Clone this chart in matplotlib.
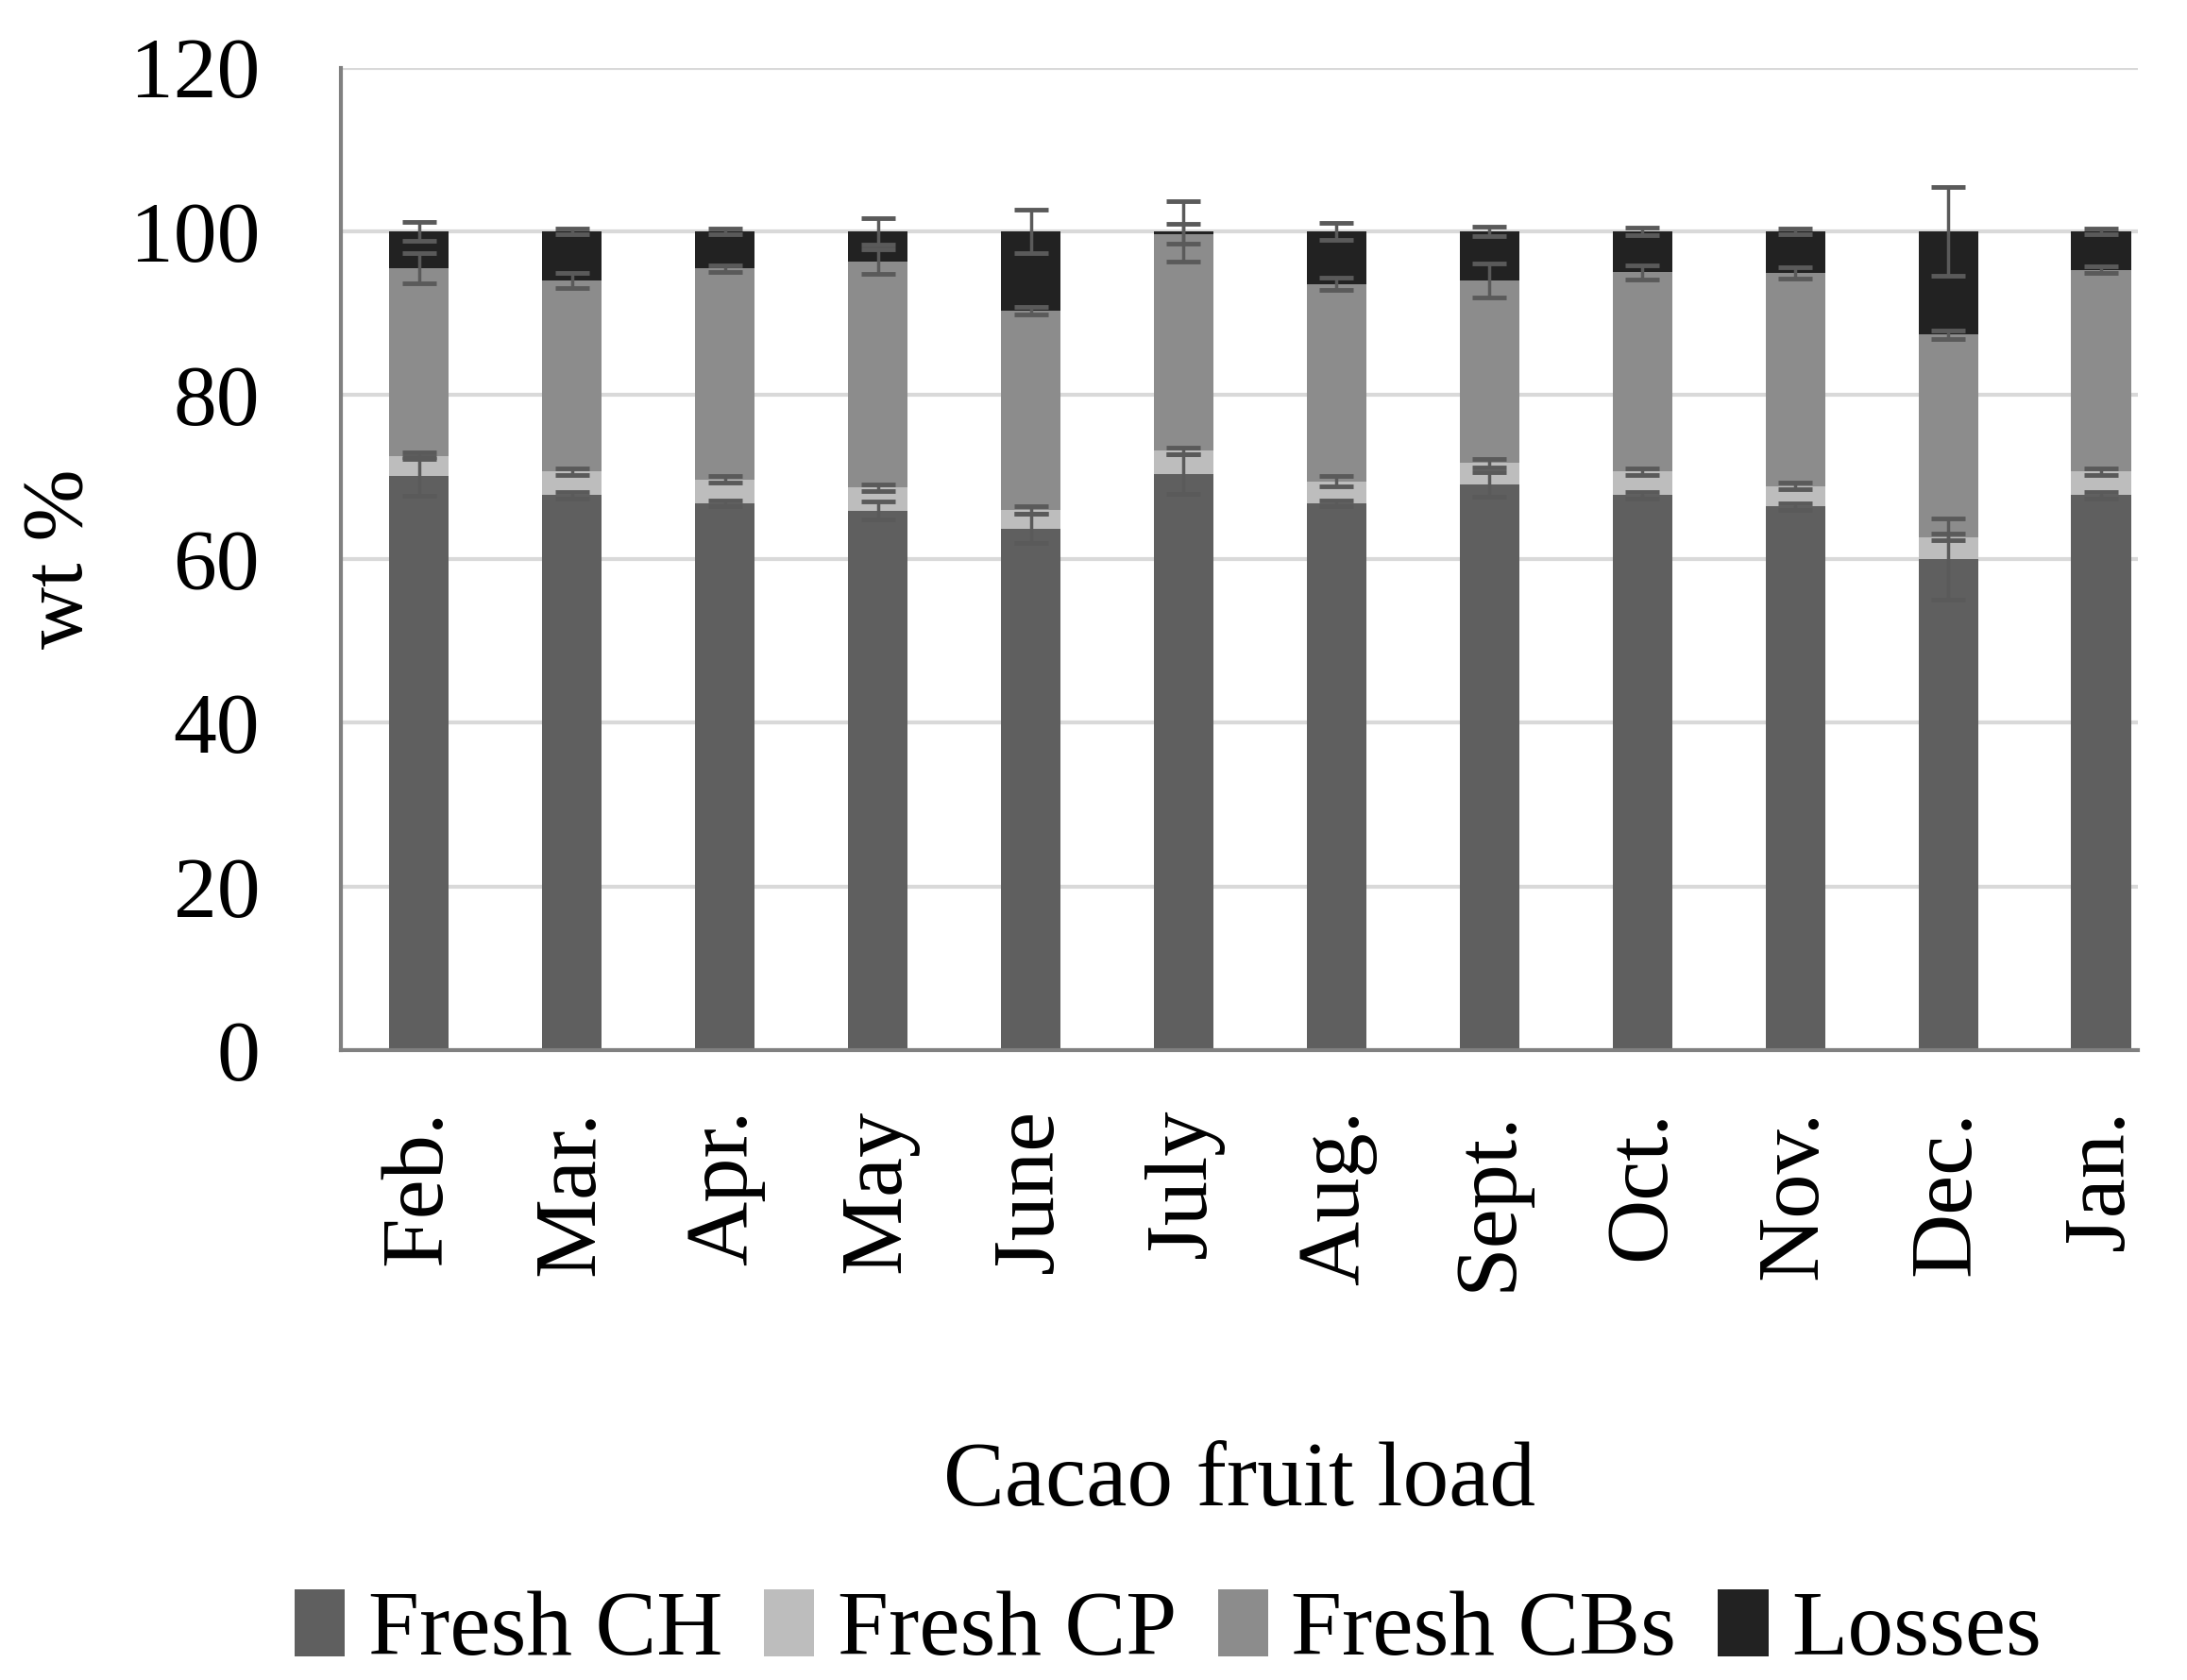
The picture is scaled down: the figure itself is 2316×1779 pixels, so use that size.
import numpy as np
import matplotlib.pyplot as plt

months = ['Feb.', 'Mar.', 'Apr.', 'May', 'June', 'July', 'Aug.', 'Sept.', 'Oct.', 'Nov.', 'Dec.', 'Jan.']

# segment values (wt %)
fresh_ch = [70.1, 67.8, 66.8, 65.9, 63.7, 70.4, 66.8, 69.1, 67.8, 66.4, 60.0, 67.8]
fresh_cp = [2.5, 2.9, 2.9, 2.8, 2.3, 2.8, 2.7, 2.6, 2.9, 2.5, 2.7, 2.9]
fresh_cbs = [22.9, 23.3, 25.8, 27.6, 24.3, 26.5, 24.1, 22.3, 24.3, 26.0, 24.7, 24.6]
losses = [4.5, 6.0, 4.5, 3.7, 9.7, 0.3, 6.4, 6.0, 5.0, 5.1, 12.6, 4.7]

# standard deviations
err_ch = [2.4, 0.4, 0.3, 1.1, 1.8, 2.4, 0.4, 1.5, 0.4, 0.4, 5.0, 0.4]
err_cp = [0.4, 0.4, 0.4, 0.4, 0.5, 0.4, 0.6, 0.5, 0.4, 0.4, 0.4, 0.4]
err_cbs = [1.8, 0.9, 0.4, 1.5, 0.5, 1.2, 0.7, 2.1, 0.9, 0.7, 0.5, 0.4]
err_loss = [1.1, 0.4, 0.4, 1.6, 2.7, 3.7, 1.0, 0.6, 0.5, 0.4, 5.4, 0.4]

series = ['Fresh CH', 'Fresh CP', 'Fresh CBs', 'Losses']
colors = ['#5f5f5f', '#bdbdbd', '#8c8c8c', '#222222']

plt.rcParams['font.family'] = ['Liberation Serif', 'DejaVu Serif']

fig = plt.figure(figsize=(23.16, 17.79), dpi=100)
ax = fig.add_axes([0.156, 0.3747, 0.8215, 0.5851])

x = np.arange(len(months))
w = 0.39
bottom = np.zeros(len(months))
vals = [fresh_ch, fresh_cp, fresh_cbs, losses]
errs = [err_ch, err_cp, err_cbs, err_loss]
for v, e, c, lab in zip(vals, errs, colors, series):
    v = np.array(v)
    ax.bar(x, v, w, bottom=bottom, color=c, label=lab, zorder=2)
    bottom = bottom + v
    ax.errorbar(x, bottom, yerr=e, fmt='none', ecolor='#5a5a5a',
                elinewidth=2.5, capsize=13, capthick=3.5, zorder=3)

ax.set_ylim(0, 120)
ax.set_xlim(-0.51, 11.24)
ax.set_yticks(range(0, 121, 20))
ax.yaxis.grid(True, color='#d9d9d9', linewidth=3, zorder=0)
ax.set_axisbelow(True)
for s in ['top', 'right']:
    ax.spines[s].set_visible(False)
for s in ['left', 'bottom']:
    ax.spines[s].set_color('#808080')
    ax.spines[s].set_linewidth(3)
ax.tick_params(length=0)
ax.tick_params(axis='y', labelsize=66, pad=62)
ax.tick_params(axis='x', labelsize=68, pad=45)
ax.set_xticks(x)
ax.set_xticklabels(months, rotation=90)
ax.set_ylabel('wt %', fontsize=66)
ax.yaxis.set_label_coords(-0.134, 0.5)
ax.set_xlabel('Cacao fruit load', fontsize=70, labelpad=115)

fig.legend(loc='lower center', bbox_to_anchor=(0.534, -0.046), ncol=4, frameon=False,
           fontsize=70, handlelength=0.55, handleheight=0.75, handletextpad=0.25,
           columnspacing=0.45)

fig.savefig('out.png', dpi=100)
